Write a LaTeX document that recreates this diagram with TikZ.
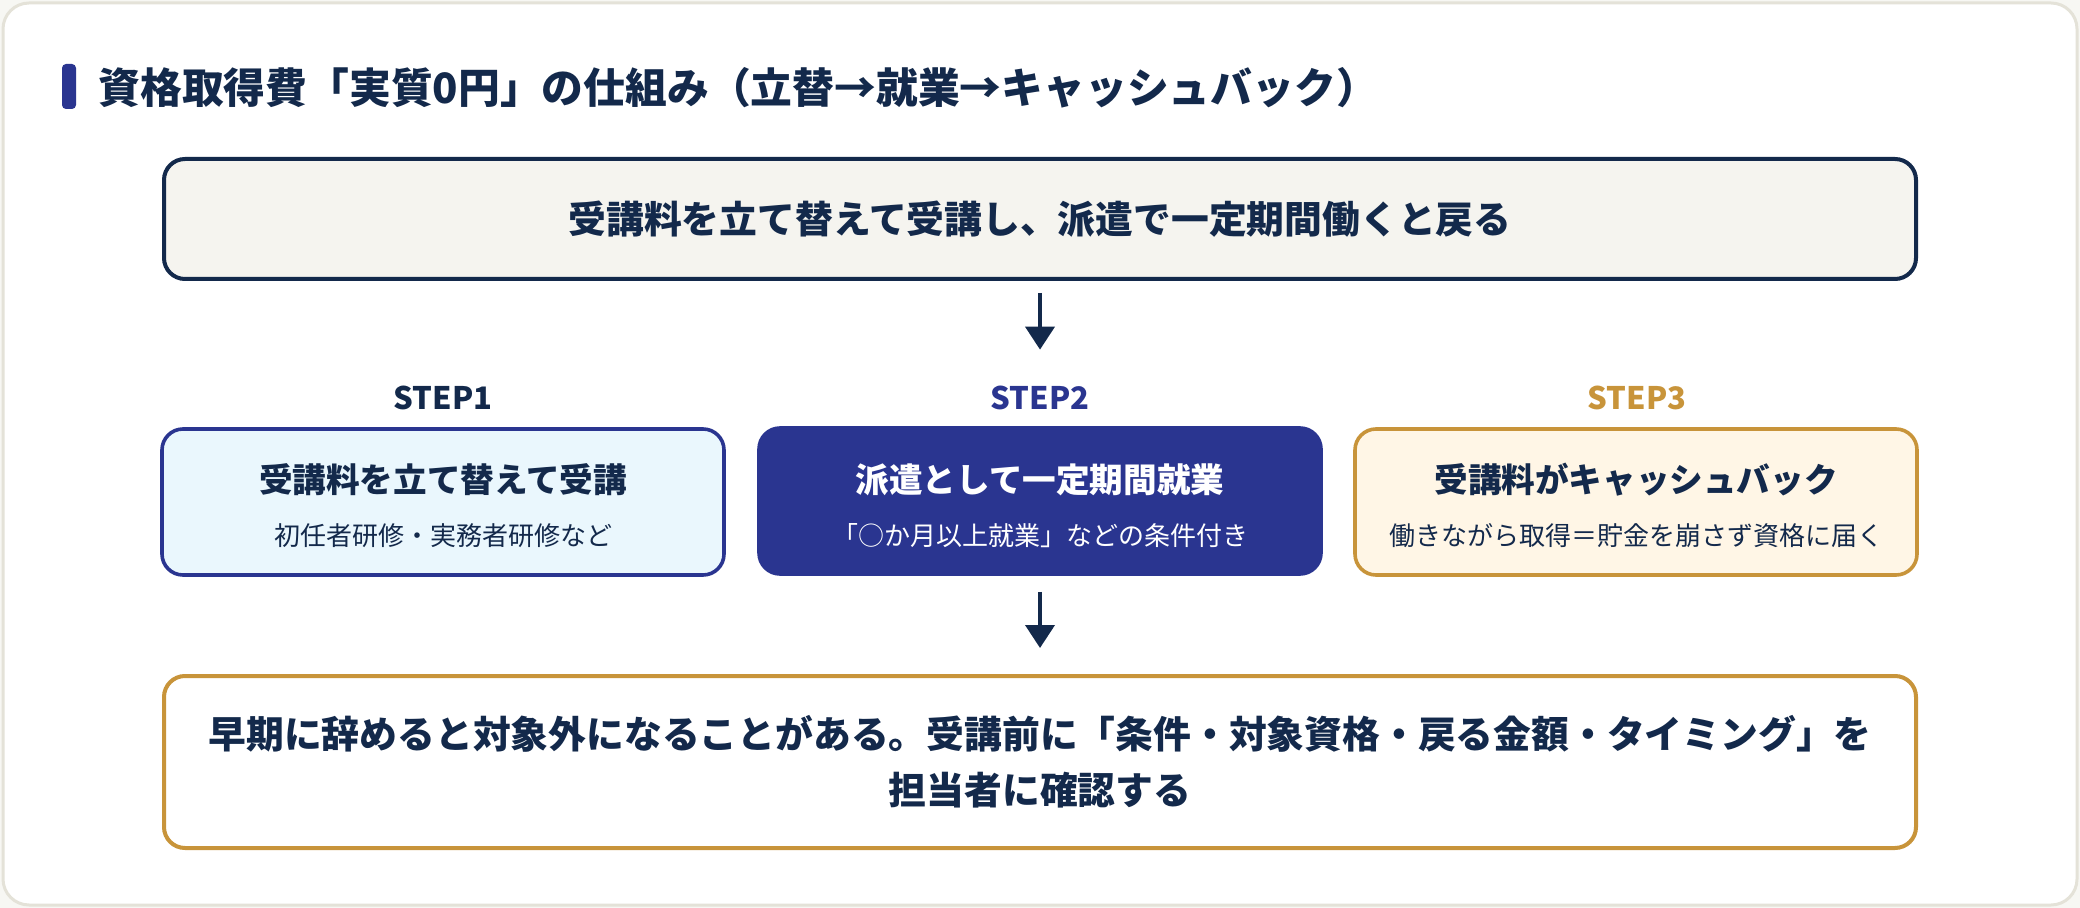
\documentclass[tikz,border=0pt]{standalone}
\usepackage{fontspec}
\setmainfont{Noto Sans CJK JP}
\usetikzlibrary{arrows.meta}
\definecolor{navy}{HTML}{13294B}
\definecolor{indigo}{HTML}{2A3590}
\definecolor{gold}{HTML}{C8943A}
\definecolor{cardline}{HTML}{E4E2D8}
\definecolor{topfill}{HTML}{F5F4EF}
\definecolor{cyanfill}{HTML}{EAF7FD}
\definecolor{creamfill}{HTML}{FFF6E6}
\definecolor{pagebg}{HTML}{F7F7F3}
\tikzset{
  boxbase/.style={draw, rounded corners=10.5pt, inner sep=0pt, minimum width=281pt},
  topbox/.style={boxbase, draw=navy, fill=topfill, line width=2pt, minimum width=876pt, minimum height=60pt,
     text=navy, font=\bfseries\fontsize{18.9pt}{22pt}\selectfont},
  stepA/.style={boxbase, draw=indigo, fill=cyanfill, line width=1.8pt, minimum height=73pt},
  stepB/.style={boxbase, draw=indigo, fill=indigo, line width=1.8pt, minimum height=73pt},
  stepC/.style={boxbase, draw=gold, fill=creamfill, line width=1.8pt, minimum height=73pt},
  botbox/.style={boxbase, draw=gold, fill=white, line width=2pt, minimum width=876pt, minimum height=86pt,
     text=navy, align=center, font=\bfseries\fontsize{18.9pt}{28pt}\selectfont},
  steplbl/.style={inner sep=0pt, font=\bfseries\fontsize{15.5pt}{18pt}\selectfont},
  steptitle/.style={inner sep=0pt, font=\bfseries\fontsize{16.8pt}{20pt}\selectfont},
  stepsub/.style={inner sep=0pt, font=\fontsize{13pt}{16pt}\selectfont},
  arr/.style={draw=navy, line width=2pt, -{Triangle[width=14.5pt,length=11.5pt]}},
}
\begin{document}
\begin{tikzpicture}[x=0.5pt,y=-0.5pt]
\useasboundingbox (0,0) rectangle (2080,908);
\fill[pagebg] (0,0) rectangle (2080,908);
\draw[cardline, fill=white, line width=1.5pt, rounded corners=13pt] (3,3) rectangle (2077,905);

% title
\fill[indigo, rounded corners=2pt] (62,64) rectangle (76,109);
\node[anchor=west, inner sep=0pt, text=navy, font=\bfseries\fontsize{20.9pt}{24pt}\selectfont] (title) at (98,88)
  {資格取得費「実質0円」の仕組み（立替→就業→キャッシュバック）};

% top box
\node[topbox] (top) at (1040,219) {受講料を立て替えて受講し、派遣で一定期間働くと戻る};

% step labels
\node[steplbl, text=navy] (l1) at (443,398) {STEP1};
\node[steplbl, text=indigo] (l2) at (1040,398) {STEP2};
\node[steplbl, text=gold] (l3) at (1637,398) {STEP3};

% step boxes
\node[stepA] (s1) at (443,502) {};
\node[stepB] (s2) at (1040,501) {};
\node[stepC] (s3) at (1636,502) {};

\node[steptitle, text=navy] (t1) at (443,480) {受講料を立て替えて受講};
\node[stepsub, text=navy] (u1) at (443,536) {初任者研修・実務者研修など};
\node[steptitle, text=white] (t2) at (1040,480) {派遣として一定期間就業};
\node[stepsub, text=white] (u2) at (1040,536) {「○か月以上就業」などの条件付き};
\node[steptitle, text=navy] (t3) at (1636,480) {受講料がキャッシュバック};
\node[stepsub, text=navy] (u3) at (1636,536) {働きながら取得＝貯金を崩さず資格に届く};

% bottom box
\node[botbox] (bot) at (1040,762) {早期に辞めると対象外になることがある。受講前に「条件・対象資格・戻る金額・タイミング」を\\担当者に確認する};

% arrows
\draw[arr, shorten <=6pt, shorten >=18pt] (top.south) -- (l2.north);
\draw[arr, shorten <=8pt, shorten >=13pt] (s2.south) -- (bot.north);
\end{tikzpicture}
\end{document}
